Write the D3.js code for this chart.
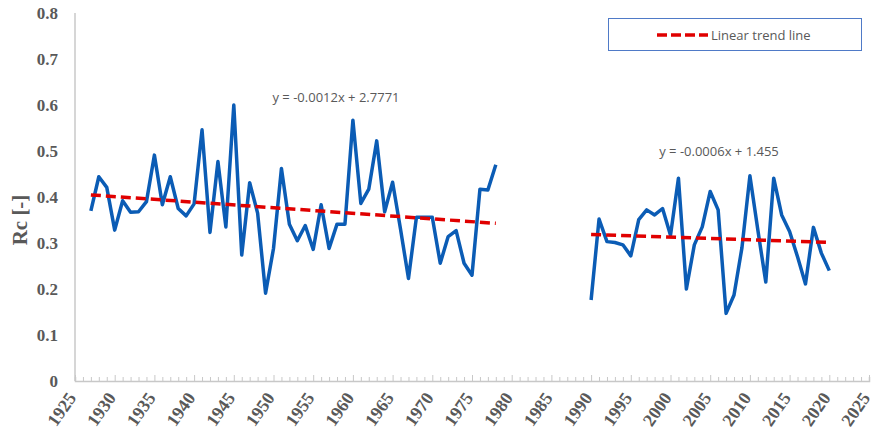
<!DOCTYPE html>
<html lang="en">

<body style="margin:0;background:#fff">
    <script type='text/javascript' src='https://d3js.org/d3.v7.min.js'></script>
    <script>
        const years1 = d3.range(1927, 1979);
        const rc1 = [0.370, 0.444, 0.421, 0.328, 0.392, 0.367, 0.368, 0.390, 0.491, 0.383,
            0.444, 0.375, 0.359, 0.385, 0.546, 0.323, 0.477, 0.335, 0.600, 0.274,
            0.431, 0.365, 0.191, 0.288, 0.462, 0.341, 0.305, 0.338, 0.286, 0.383,
            0.288, 0.341, 0.341, 0.567, 0.386, 0.417, 0.522, 0.368, 0.432, 0.330,
            0.223, 0.356, 0.356, 0.356, 0.256, 0.314, 0.327, 0.256, 0.230, 0.417,
            0.415, 0.470];
        const years2 = d3.range(1990, 2021);
        const rc2 = [0.176, 0.352, 0.303, 0.301, 0.296, 0.272, 0.351, 0.372, 0.361, 0.375,
            0.317, 0.441, 0.200, 0.296, 0.335, 0.412, 0.372, 0.147, 0.187, 0.290,
            0.446, 0.328, 0.215, 0.441, 0.361, 0.325, 0.270, 0.211, 0.334, 0.278,
            0.240];
        const yTicks = [0, 0.1, 0.2, 0.3, 0.4, 0.5, 0.6, 0.7, 0.8];
        const xTicks = d3.range(1925, 2026, 5);
        const equations = ["y = -0.0012x + 2.7771", "y = -0.0006x + 1.455"];

        const width = 871, height = 434;
        const grey = "#595959";

        var svg = d3.select("body").append("svg")
            .attr("width", width)
            .attr("height", height);

        var x = d3.scaleLinear().domain([1925, 2025]).range([75, 869]);
        var y = d3.scaleLinear().domain([0, 0.8]).range([381, 13]);

        // axes
        svg.append("line")
            .attr("x1", x(1925)).attr("x2", x(1925))
            .attr("y1", y(0.8)).attr("y2", y(0))
            .attr("stroke", "#c8c8c8").attr("stroke-width", 1.5);

        var xAxis = svg.append("g")
            .attr("transform", "translate(0," + y(0) + ")")
            .call(d3.axisBottom(x).tickValues(d3.range(1925, 2026)).tickSize(-4).tickFormat(""));
        xAxis.select(".domain").attr("stroke", "#c8c8c8").attr("stroke-width", 1.5);
        xAxis.selectAll(".tick line").attr("stroke", "#c8c8c8")
            .attr("y2", function (d) { return d % 5 === 0 ? -6 : -4; });

        svg.selectAll(".xlab")
            .data(xTicks)
            .enter()
            .append("text")
            .attr("class", "xlab")
            .attr("transform", function (d) {
                return "translate(" + (x(d) + 2) + "," + (y(0) + 17) + ") rotate(-55)";
            })
            .style("text-anchor", "end")
            .style("font-family", "Liberation Serif")
            .style("font-weight", "bold")
            .style("font-size", "18px")
            .attr("fill", grey)
            .text(function (d) { return d; });

        svg.selectAll(".ylab")
            .data(yTicks)
            .enter()
            .append("text")
            .attr("class", "ylab")
            .attr("x", 58)
            .attr("y", function (d) { return y(d); })
            .attr("dy", ".35em")
            .style("text-anchor", "end")
            .style("font-family", "Liberation Serif")
            .style("font-weight", "bold")
            .style("font-size", "17px")
            .attr("fill", grey)
            .text(function (d) { return d === 0 ? "0" : d3.format(".1f")(d); });

        svg.append("text")
            .attr("transform", "translate(27,220) rotate(-90)")
            .style("text-anchor", "middle")
            .style("font-family", "Liberation Serif")
            .style("font-weight", "bold")
            .style("font-size", "21px")
            .attr("fill", grey)
            .text("Rc [-]");

        // series
        var series = [
            { years: years1, vals: rc1, eq: equations[0], lx: 336, ly: 97 },
            { years: years2, vals: rc2, eq: equations[1], lx: 719, ly: 151 }
        ];

        var line = d3.line()
            .x(function (d) { return x(d[0]); })
            .y(function (d) { return y(d[1]); });

        series.forEach(function (s) {
            var pts = d3.zip(s.years, s.vals);
            svg.append("path")
                .attr("d", line(pts))
                .attr("fill", "none")
                .attr("stroke", "#0b5cb5")
                .attr("stroke-width", 3.5)
                .attr("stroke-linejoin", "round");

            // least squares trend over the period
            var mx = d3.mean(s.years), my = d3.mean(s.vals);
            var b = d3.sum(pts, function (p) { return (p[0] - mx) * (p[1] - my); }) /
                d3.sum(s.years, function (t) { return (t - mx) * (t - mx); });
            var a = my - b * mx;
            var x0 = s.years[0], x1 = s.years[s.years.length - 1];
            svg.append("path")
                .attr("d", line([[x0, a + b * x0], [x1, a + b * x1]]))
                .attr("fill", "none")
                .attr("stroke", "#e00000")
                .attr("stroke-width", 3.5)
                .attr("stroke-dasharray", "10,5");

            svg.append("text")
                .attr("x", s.lx)
                .attr("y", s.ly)
                .attr("dy", ".35em")
                .style("text-anchor", "middle")
                .style("font-family", "Open Sans")
                .style("font-size", "13px")
                .attr("fill", grey)
                .text(s.eq);
        });

        // legend
        var lg = svg.append("g");
        lg.append("rect")
            .attr("x", 608.5).attr("y", 18.5)
            .attr("width", 253).attr("height", 32)
            .attr("fill", "#fff")
            .attr("stroke", "#4f7ac7");
        lg.append("line")
            .attr("x1", 657).attr("x2", 708)
            .attr("y1", 35).attr("y2", 35)
            .attr("stroke", "#e00000")
            .attr("stroke-width", 3.5)
            .attr("stroke-dasharray", "10,4");
        lg.append("text")
            .attr("x", 711).attr("y", 35)
            .attr("dy", ".35em")
            .style("font-family", "Open Sans")
            .style("font-size", "13px")
            .attr("fill", grey)
            .text("Linear trend line");
    </script>

</body>

</html>
